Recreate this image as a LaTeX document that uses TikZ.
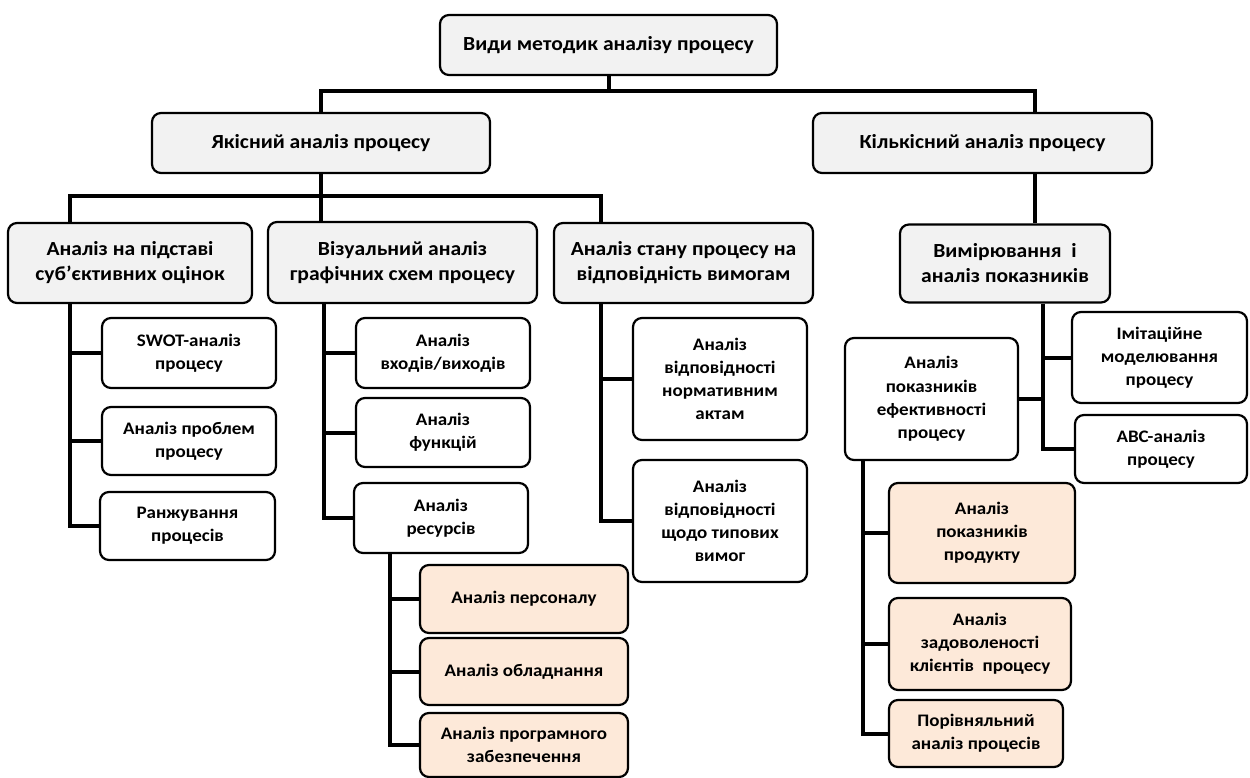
\documentclass[tikz,border=0pt]{standalone}
\usepackage{fontspec}
\setmainfont{Carlito}[FakeStretch=1.08]
\usepackage{xcolor}
\usepackage{tikz}
\definecolor{headc}{RGB}{242,242,242}
\definecolor{subc}{RGB}{253,233,217}

\tikzset{
  box/.style={draw=black,line width=2.2pt,rounded corners=9pt,align=center,inner sep=2pt,
              font=\bfseries\fontsize{17.6}{23.2}\selectfont},
  headbox/.style={box,fill=headc,font=\bfseries\fontsize{20}{25}\selectfont},
  leafbox/.style={box,fill=white},
  subbox/.style={box,fill=subc},
  link/.style={line width=4pt}
}

\begin{document}
\begin{tikzpicture}[x=1pt,y=-1pt]
  \useasboundingbox (0,0) rectangle (1250,778);
  % ---- top levels ----
  \node[headbox,minimum width=337pt,minimum height=60pt] (top) at (608.5,45) {Види методик аналізу процесу};
  \node[headbox,minimum width=338pt,minimum height=60pt] (qual) at (321,143) {Якісний аналіз процесу};
  \node[headbox,minimum width=339pt,minimum height=60pt] (quant) at (982.5,143) {Кількісний аналіз процесу};
  % ---- groups ----
  \node[headbox,minimum width=244pt,minimum height=80pt] (subj) at (130,263) {Аналіз на підставі\\суб’єктивних оцінок};
  \node[headbox,minimum width=269pt,minimum height=81pt] (visual) at (402.5,262.5) {Візуальний аналіз\\графічних схем процесу};
  \node[headbox,minimum width=259pt,minimum height=80pt] (compl) at (683.5,263) {Аналіз стану процесу на\\відповідність вимогам};
  \node[headbox,minimum width=210pt,minimum height=78pt] (measure) at (1005,263.5) {Вимірювання \ і\\аналіз показників};
  % ---- subjective methods ----
  \node[leafbox,minimum width=174pt,minimum height=70pt] (swot) at (189,353) {SWOT-аналіз\\процесу};
  \node[leafbox,minimum width=174pt,minimum height=68pt] (probl) at (189,441) {Аналіз проблем\\процесу};
  \node[leafbox,minimum width=175pt,minimum height=68pt] (rank) at (187.5,526) {Ранжування\\процесів};
  % ---- visual methods ----
  \node[leafbox,minimum width=174pt,minimum height=70pt] (inout) at (443,353) {Аналіз\\входів/виходів};
  \node[leafbox,minimum width=174pt,minimum height=69pt] (func) at (443,432.5) {Аналіз\\функцій};
  \node[leafbox,minimum width=174pt,minimum height=70pt] (resrc) at (441,518) {Аналіз\\ресурсів};
  \node[subbox,minimum width=208pt,minimum height=68pt] (staff) at (524,599) {Аналіз персоналу};
  \node[subbox,minimum width=208pt,minimum height=67pt] (equip) at (524,671.5) {Аналіз обладнання};
  \node[subbox,minimum width=208pt,minimum height=64pt] (soft) at (524,745) {Аналіз програмного\\забезпечення};
  % ---- compliance ----
  \node[leafbox,minimum width=174pt,minimum height=122pt] (norm) at (720,379) {Аналіз\\відповідності\\нормативним\\актам};
  \node[leafbox,minimum width=174pt,minimum height=122pt] (typic) at (720,521) {Аналіз\\відповідності\\щодо типових\\вимог};
  % ---- measurement ----
  \node[leafbox,minimum width=175pt,minimum height=91pt] (imit) at (1159.5,357.5) {Імітаційне\\моделювання\\процесу};
  \node[leafbox,minimum width=172pt,minimum height=68pt] (abc) at (1161,449) {АВС-аналіз\\процесу};
  \node[leafbox,minimum width=173pt,minimum height=122pt] (effic) at (931.5,399) {Аналіз\\показників\\ефективності\\процесу};
  \node[subbox,minimum width=186pt,minimum height=100pt] (prod) at (982,533) {Аналіз\\показників\\продукту};
  \node[subbox,minimum width=182pt,minimum height=92pt] (satis) at (980,644) {Аналіз\\задоволеності\\клієнтів \ процесу};
  \node[subbox,minimum width=174pt,minimum height=67pt] (compar) at (976,733.5) {Порівняльний\\аналіз процесів};

  % ---- connectors ----
  \draw[link] (top.south) -- ++(0,15) coordinate (bus1);
  \draw[link] (qual.north) |- (bus1) -| ([xshift=52pt]quant.north);
  \draw[link] (qual.south) -- ++(0,22) coordinate (bus2);
  \draw[link] ([xshift=-60pt]subj.north) |- (bus2) -| ([xshift=-82.5pt]compl.north);
  \draw[link] (bus2) -- (bus2 |- visual.north);
  \draw[link] ([xshift=52pt]quant.south) -- ([xshift=52pt]quant.south |- measure.north);
  % subjective
  \coordinate (t1) at ([xshift=-60pt]subj.south);
  \draw[link] (t1) |- (rank.west);
  \draw[link] (swot.west) -- (swot.west -| t1);
  \draw[link] (probl.west) -- (probl.west -| t1);
  % visual
  \coordinate (t2) at ([xshift=-78.5pt]visual.south);
  \draw[link] (t2) |- (resrc.west);
  \draw[link] (inout.west) -- (inout.west -| t2);
  \draw[link] (func.west) -- (func.west -| t2);
  \coordinate (t3) at ([xshift=-51pt]resrc.south);
  \draw[link] (t3) |- (soft.west);
  \draw[link] (staff.west) -- (staff.west -| t3);
  \draw[link] (equip.west) -- (equip.west -| t3);
  % compliance
  \coordinate (t4) at ([xshift=-82.5pt]compl.south);
  \draw[link] (t4) |- (typic.west);
  \draw[link] (norm.west) -- (norm.west -| t4);
  % measurement
  \coordinate (t5) at ([xshift=38pt]measure.south);
  \draw[link] (t5) |- (abc.west);
  \draw[link] (imit.west) -- (imit.west -| t5);
  \draw[link] (effic.east) -- (effic.east -| t5);
  \coordinate (t6) at ([xshift=-68.5pt]effic.south);
  \draw[link] (t6) |- (compar.west);
  \draw[link] (prod.west) -- (prod.west -| t6);
  \draw[link] (satis.west) -- (satis.west -| t6);
\end{tikzpicture}
\end{document}
